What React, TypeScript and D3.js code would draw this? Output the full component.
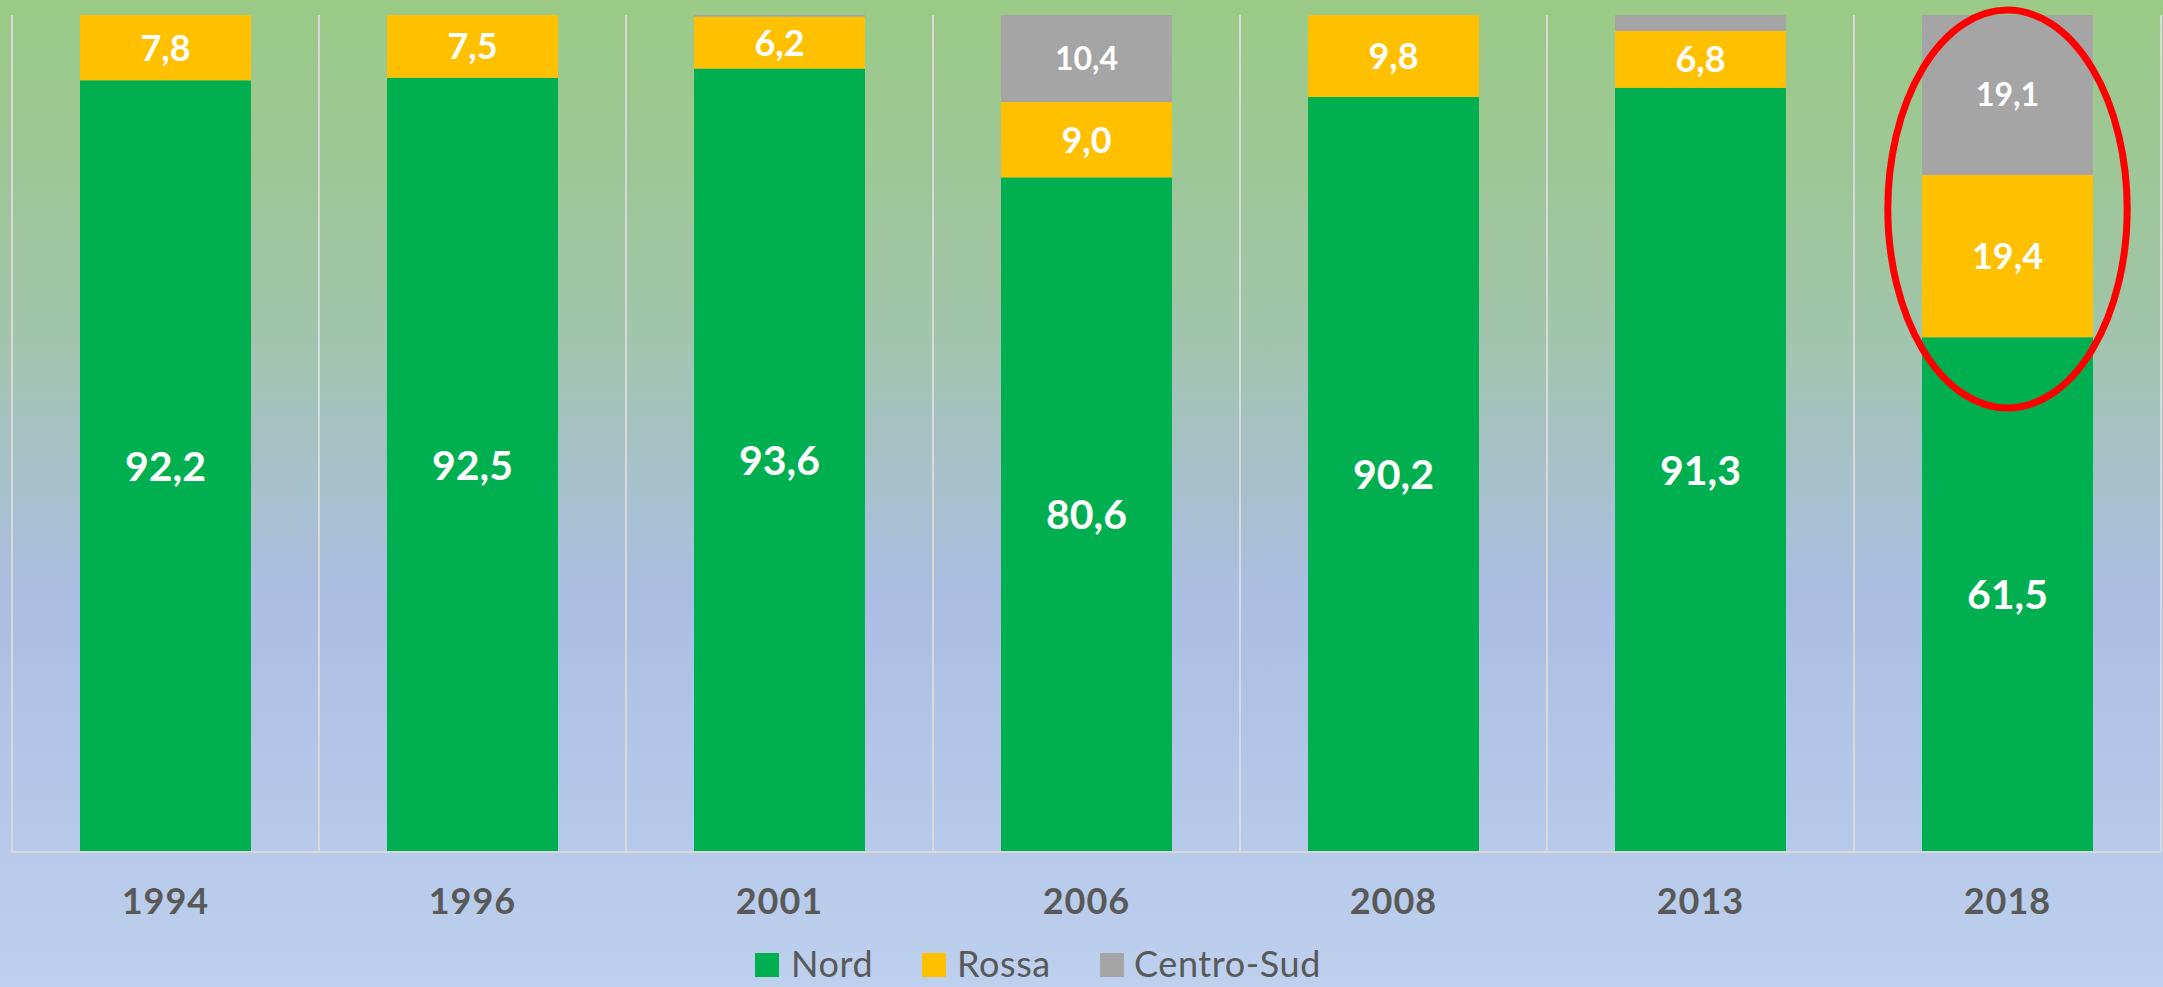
import React from 'react'
import * as d3 from 'd3'

const width = 2163
const height = 987

// data
const years = ['1994', '1996', '2001', '2006', '2008', '2013', '2018']
const nord = [92.2, 92.5, 93.6, 80.6, 90.2, 91.3, 61.5]
const rossa = [7.8, 7.5, 6.2, 9.0, 9.8, 6.8, 19.4]
const centroSud = [0, 0, 0.2, 10.4, 0, 1.9, 19.1]
const seriesNames = ['Nord', 'Rossa', 'Centro-Sud']
const highlightYear = '2018'

const colors = ['#00B050', '#FFC000', '#A5A5A5']
const labelSizes = [41, 36, 32]

const plot = { left: 12, right: 2161, top: 15, bottom: 852 }

const fmt = (v: number) => v.toFixed(1).replace('.', ',')

export default function App() {
    const rows = years.map((y, i) => ({
        year: y,
        Nord: nord[i],
        Rossa: rossa[i],
        'Centro-Sud': centroSud[i],
    }))
    const stacked = d3.stack<any>().keys(seriesNames)(rows)

    const x = d3
        .scaleBand()
        .domain(years)
        .range([plot.left, plot.right])
        .paddingInner(0.443)
        .paddingOuter(0.2215)
    const y = d3.scaleLinear().domain([0, 100]).range([plot.bottom, plot.top])
    const step = x.step()
    const bw = x.bandwidth()
    const gridX = d3.range(years.length + 1).map(i => plot.left + i * step)

    const hx = (x(highlightYear) as number) + bw / 2

    const font = 'Lato, "Open Sans", sans-serif'

    // legend layout
    const legend = [
        { name: 'Nord', sq: 755, tx: 791 },
        { name: 'Rossa', sq: 922, tx: 957 },
        { name: 'Centro-Sud', sq: 1100, tx: 1134 },
    ]
    const legendBase = 977

    return (
        <svg
            width={width}
            height={height}
            style={{ position: 'absolute', left: 0, top: 0, display: 'block' }}
        >
            <defs>
                <linearGradient id="bg" x1="0" y1="0" x2="0" y2="1">
                    <stop offset="0" stopColor="#9bca86" />
                    <stop offset="0.3" stopColor="#a0c5a5" />
                    <stop offset="0.6" stopColor="#abbee2" />
                    <stop offset="1" stopColor="#bdd0ed" />
                </linearGradient>
            </defs>
            <rect x={0} y={0} width={width} height={height} fill="url(#bg)" />

            {gridX.map((gx, i) => (
                <line
                    key={i}
                    x1={gx}
                    x2={gx}
                    y1={plot.top}
                    y2={plot.bottom}
                    stroke="#D9D9D9"
                    strokeWidth={2}
                />
            ))}

            {stacked.map((s, si) => (
                <g key={s.key}>
                    {s.map((d, i) => {
                        const v = d[1] - d[0]
                        if (v <= 0) return null
                        return (
                            <rect
                                key={i}
                                x={x(years[i])}
                                y={y(d[1])}
                                width={bw}
                                height={y(d[0]) - y(d[1])}
                                fill={colors[si]}
                            />
                        )
                    })}
                </g>
            ))}

            <line
                x1={plot.left}
                x2={plot.right}
                y1={plot.bottom}
                y2={plot.bottom}
                stroke="#D9D9D9"
                strokeWidth={2}
            />

            {stacked.map((s, si) => (
                <g key={'l' + s.key}>
                    {s.map((d, i) => {
                        const v = d[1] - d[0]
                        if (v < 5) return null
                        return (
                            <text
                                key={i}
                                x={(x(years[i]) as number) + bw / 2}
                                y={(y(d[0]) + y(d[1])) / 2}
                                dy="0.36em"
                                textAnchor="middle"
                                fill="#fff"
                                fontFamily={font}
                                fontWeight={700}
                                fontSize={labelSizes[si]}
                            >
                                {fmt(v)}
                            </text>
                        )
                    })}
                </g>
            ))}

            {years.map(yr => (
                <text
                    key={yr}
                    x={(x(yr) as number) + bw / 2}
                    y={914}
                    textAnchor="middle"
                    fill="#595959"
                    fontFamily={font}
                    fontWeight={700}
                    fontSize={36}
                    letterSpacing={1}
                >
                    {yr}
                </text>
            ))}

            {legend.map((l, i) => (
                <g key={l.name}>
                    <rect
                        x={l.sq}
                        y={legendBase - 24}
                        width={24}
                        height={24}
                        fill={colors[i]}
                    />
                    <text
                        x={l.tx}
                        y={legendBase}
                        fill="#595959"
                        fontFamily={font}
                        fontSize={36}
                        letterSpacing={0.6}
                    >
                        {l.name}
                    </text>
                </g>
            ))}

            <ellipse
                cx={hx}
                cy={209}
                rx={bw * 0.7}
                ry={199}
                fill="none"
                stroke="#FF0000"
                strokeWidth={7}
            />
        </svg>
    )
}
